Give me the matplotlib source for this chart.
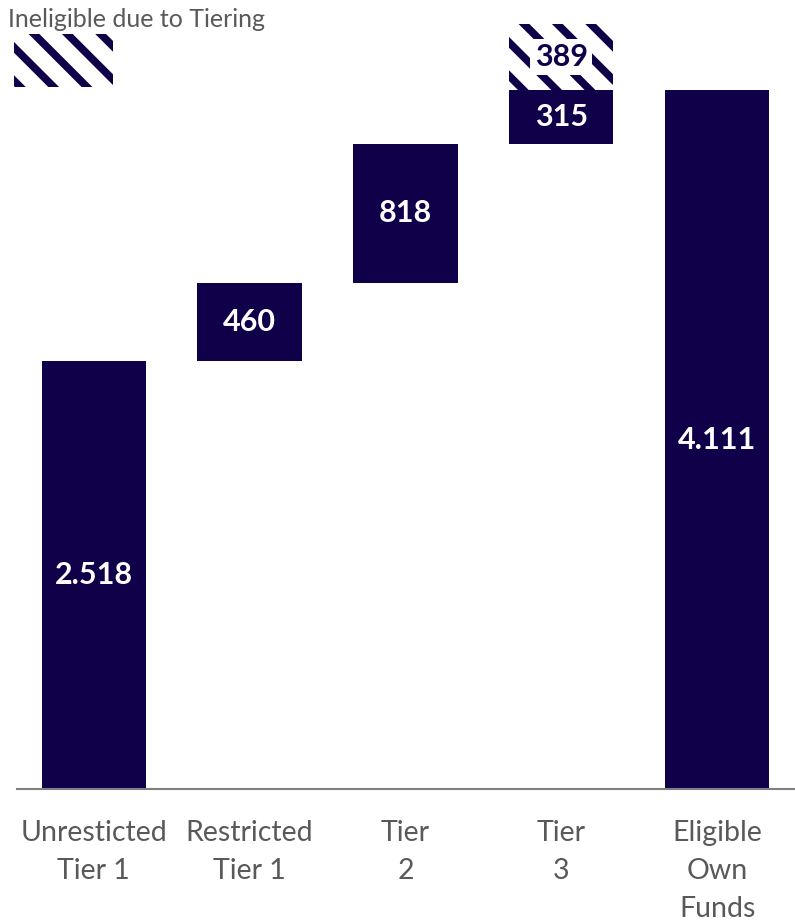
import numpy as np
import matplotlib.pyplot as plt
import matplotlib as mpl

categories = ['Unresticted\nTier 1', 'Restricted\nTier 1', 'Tier\n2', 'Tier\n3', 'Eligible\nOwn\nFunds']
values = [2518, 460, 818, 315, 4111]
labels = ['2.518', '460', '818', '315', '4.111']
ineligible = [0, 0, 0, 389, 0]
ineligible_labels = ['', '', '', '389', '']
legend_label = 'Ineligible due to Tiering'

navy = '#10004a'
grey = '#595959'

plt.rcParams['font.family'] = ['Lato', 'DejaVu Sans']
mpl.rcParams['hatch.linewidth'] = 5.5
mpl.rcParams['hatch.color'] = navy

fig = plt.figure(figsize=(7.95, 9.23), dpi=100)
ax = fig.add_axes([0.021, 0.1452, 0.979, 0.8548])

x = np.arange(len(categories))
# waterfall: intermediate bars float on the running total, last one is the total
bottoms = np.zeros(len(values))
bottoms[1:-1] = np.cumsum(values[:-2])
ax.bar(x, values, bottom=bottoms, width=0.67, color=navy, linewidth=0)

tops = bottoms + np.array(values)
ax.bar(x, ineligible, bottom=tops, width=0.67, color='white', edgecolor=navy,
       hatch='\\', linewidth=0)

for xi, b, v, lab in zip(x, bottoms, values, labels):
    ax.text(xi, b + v / 2, lab, ha='center', va='center', color='white',
            fontsize=22, fontweight='bold')
for xi, t, v, lab in zip(x, tops, ineligible, ineligible_labels):
    if v:
        ax.text(xi, t + v / 2, lab, ha='center', va='center', color=navy,
                fontsize=22, fontweight='bold',
                bbox=dict(facecolor='white', edgecolor='none', pad=3))

ax.set_xlim(-0.495, 4.5)
ax.set_ylim(0, 4641)
ax.set_xticks(x)
ax.set_xticklabels(categories, fontsize=20.5, color=grey, linespacing=1.58)
ax.tick_params(axis='x', length=0, pad=22)
ax.set_yticks([])
for s in ['top', 'right', 'left']:
    ax.spines[s].set_visible(False)
ax.spines['bottom'].set_color('#7f7f7f')
ax.spines['bottom'].set_linewidth(1.5)

# legend drawn by hand at top left
fig.text(0.01, 0.979, legend_label, fontsize=18, color=grey, ha='left', va='center')
lax = fig.add_axes([14 / 795, 1 - 87 / 923, 99 / 795, 53 / 923])
lax.add_patch(mpl.patches.Rectangle((0, 0), 1, 1, facecolor='white', edgecolor=navy,
                                    hatch='\\', linewidth=0))
lax.set_axis_off()

fig.savefig('out.png', dpi=100)
